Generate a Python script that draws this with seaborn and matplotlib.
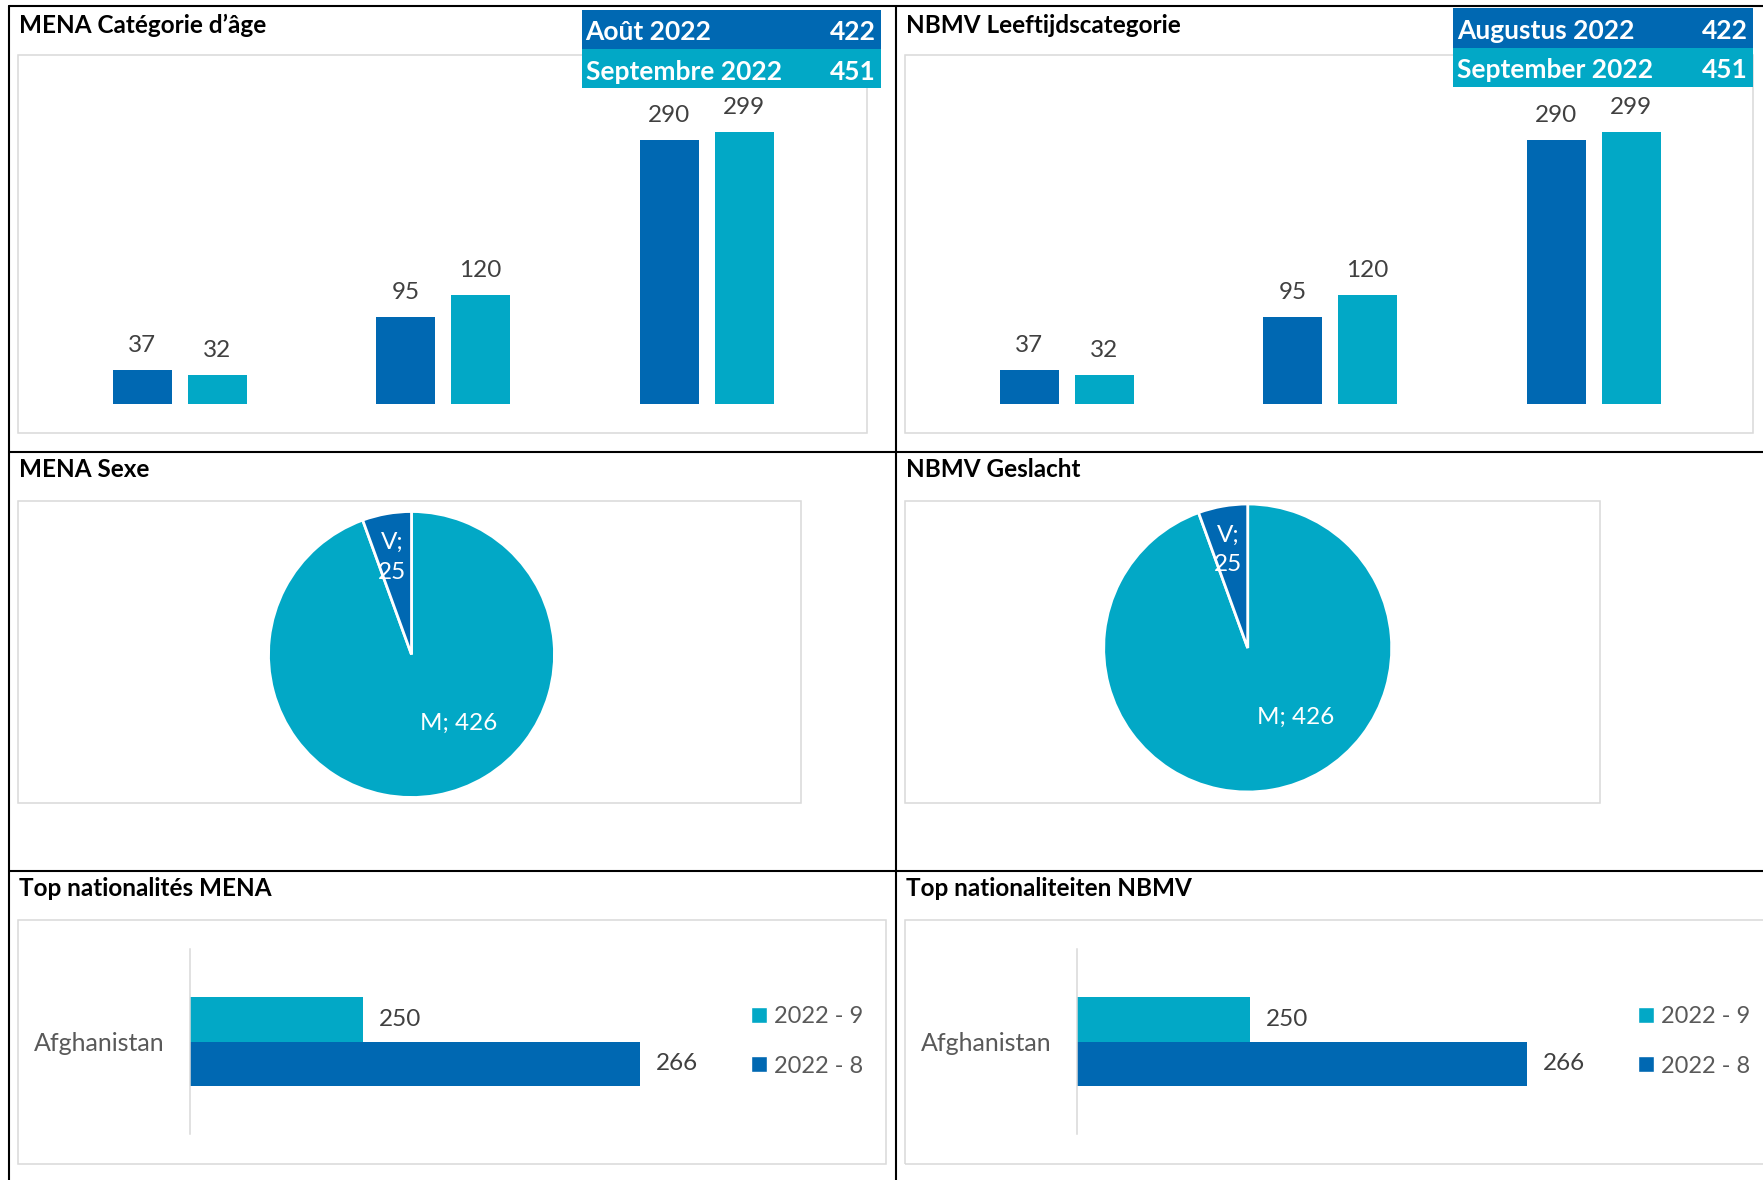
import pandas as pd
import seaborn as sns
import matplotlib.pyplot as plt
from matplotlib.lines import Line2D
from matplotlib.patches import Rectangle, Patch


# Data
age_groups = ["0-13", "14-15", "16-17"]
age_aug = [37, 95, 290]
age_sep = [32, 120, 299]

months_fr = ["Août 2022", "Septembre 2022"]
months_nl = ["Augustus 2022", "September 2022"]
month_totals = [422, 451]

sex_labels = ["M", "V"]
sex_values = [426, 25]

nationalities = ["Afghanistan"]
nat_series = ["2022 - 9", "2022 - 8"]
nat_sep = [250]
nat_aug = [266]

titles_fr = ["MENA Catégorie d’âge", "MENA Sexe", "Top nationalités MENA"]
titles_nl = ["NBMV Leeftijdscategorie", "NBMV Geslacht", "Top nationaliteiten NBMV"]

DARK = "#0068B2"
TEAL = "#02A8C6"
LABEL = "#404040"
AXIS_TXT = "#595959"
BOX = "#D9D9D9"

sns.set_theme(style="white")
plt.rcParams['font.family'] = ['Lato', 'DejaVu Sans']

W, H = 1763, 1180
fig = plt.figure(figsize=(W / 100, H / 100), dpi=100)
fig.patch.set_facecolor("white")


def px_axes(x0, y0, x1, y1):
    return fig.add_axes([x0 / W, 1 - y1 / H, (x1 - x0) / W, (y1 - y0) / H])


def px_line(x0, y0, x1, y1, **kw):
    fig.add_artist(Line2D([x0 / W, x1 / W], [1 - y0 / H, 1 - y1 / H],
                          transform=fig.transFigure, **kw))


def px_rect(x0, y0, x1, y1, **kw):
    fig.add_artist(Rectangle((x0 / W, 1 - y1 / H), (x1 - x0) / W, (y1 - y0) / H,
                             transform=fig.transFigure, **kw))


def px_text(x, y, s, **kw):
    fig.text(x / W, 1 - y / H, s, **kw)


# long tables for seaborn
df_age = pd.DataFrame({
    "group": age_groups * 2,
    "month": ["aug"] * len(age_groups) + ["sep"] * len(age_groups),
    "count": age_aug + age_sep,
})
df_nat = pd.DataFrame({
    "nationality": nationalities * 2,
    "series": [nat_series[0]] * len(nationalities) + [nat_series[1]] * len(nationalities),
    "count": nat_sep + nat_aug,
})

# black grid of the dashboard
grid_kw = dict(color="black", lw=1.5)
px_line(9, 6, W, 6, **grid_kw)
px_line(9, 6, 9, H, **grid_kw)
px_line(896, 6, 896, H, **grid_kw)
px_line(9, 452, W, 452, **grid_kw)
px_line(9, 871, W, 871, **grid_kw)

panels = [
    dict(dx=0, titles=titles_fr, months=months_fr,
         age_box=(18, 55, 867, 433), table=(581.5, 10, 881, 88),
         pie_box=(18, 501, 801, 803), pie_c=(411.5, 654.5), pie_r=143,
         nat_box=(18, 920, 886, 1164)),
    dict(dx=887, titles=titles_nl, months=months_nl,
         age_box=(905, 55, 1753, 433), table=(1453, 8, 1753, 87),
         pie_box=(905, 501, 1600, 803), pie_c=(1247.7, 648), pie_r=144,
         nat_box=(905, 920, 1775, 1164)),
]

for p in panels:
    dx = p["dx"]
    tx = 19 + dx

    # ---- age category bars ----
    px_rect(*p["age_box"], fill=False, edgecolor=BOX, lw=1.1)
    px_text(tx, 33, p["titles"][0], fontsize=17.5, fontweight="bold",
            color="black", va="baseline")
    ax = px_axes(47.85 + dx, 55.3, 838.4 + dx, 403.6)
    sns.barplot(data=df_age, x="group", y="count", hue="month",
                hue_order=["aug", "sep"], palette=[DARK, TEAL],
                width=0.57, gap=0.214, saturation=1, linewidth=0,
                legend=False, ax=ax)
    ax.set_ylim(0, 383.3)
    ax.set_xlim(-0.5, 2.5)
    for c in ax.containers:
        ax.bar_label(c, padding=10, fontsize=17.5, color=LABEL)
    ax.set_axis_off()

    # month totals box
    x0, y0, x1, y1 = p["table"]
    ym = (y0 + y1) / 2
    for (ra, rb), col, name, tot in zip([(y0, ym), (ym, y1)], [DARK, TEAL],
                                        p["months"], month_totals):
        px_rect(x0, ra, x1, rb, facecolor=col, edgecolor="none", zorder=5)
        px_text(x0 + 4, (ra + rb) / 2 + 3, name, color="white", fontsize=19,
                fontweight="bold", va="center", ha="left", zorder=6)
        px_text(x1 - 5, (ra + rb) / 2 + 3, str(tot), color="white", fontsize=19,
                fontweight="bold", va="center", ha="right", zorder=6)

    # ---- sex pie ----
    px_rect(*p["pie_box"], fill=False, edgecolor=BOX, lw=1.1)
    px_text(tx, 477, p["titles"][1], fontsize=17.5, fontweight="bold",
            color="black", va="baseline")
    cx, cy = p["pie_c"]
    r = p["pie_r"]
    ax = px_axes(cx - r, cy - r, cx + r, cy + r)
    pie_labels = [f"{lab};{' ' if v > 100 else chr(10)}{v}"
                  for lab, v in zip(sex_labels, sex_values)]
    wedges, texts = ax.pie(sex_values, labels=pie_labels, colors=[TEAL, DARK],
                           startangle=90, counterclock=False,
                           wedgeprops=dict(edgecolor="white", linewidth=2),
                           textprops=dict(color="white", fontsize=17.5,
                                          linespacing=1.5))
    texts[0].set_position((0.33, -0.48))
    texts[1].set_position((-0.135, 0.68))
    for t in texts:
        t.set_ha("center")
        t.set_va("center")
    ax.set_xlim(-1, 1)
    ax.set_ylim(-1, 1)

    # ---- nationalities ----
    px_rect(*p["nat_box"], fill=False, edgecolor=BOX, lw=1.1)
    px_text(tx, 896.5, p["titles"][2], fontsize=17.5, fontweight="bold",
            color="black", va="baseline")
    ax = px_axes(189.5 + dx, 949, 709.3 + dx, 1134)
    sns.barplot(data=df_nat, y="nationality", x="count", hue="series",
                hue_order=nat_series, palette=[TEAL, DARK], orient="h",
                width=0.483, gap=0, saturation=1, linewidth=0,
                legend=False, ax=ax)
    ax.set_xlim(240, 270)
    ax.set_ylim(0.5, -0.5)
    for c in ax.containers:
        ax.bar_label(c, padding=11.5, fontsize=17.5, color=LABEL)
    ax.set(xlabel="", ylabel="", xticks=[])
    ax.tick_params(axis="y", length=0, pad=18, labelsize=18, labelcolor=AXIS_TXT)
    for side in ["top", "right", "bottom"]:
        ax.spines[side].set_visible(False)
    ax.spines["left"].set_color(BOX)
    ax.spines["left"].set_linewidth(1.1)
    ax.set_facecolor("none")
    handles = [Patch(facecolor=TEAL, label=nat_series[0]),
               Patch(facecolor=DARK, label=nat_series[1])]
    ax.legend(handles=handles, loc="center left",
              bbox_to_anchor=((751 + dx) / W, 1 - 1041.5 / H),
              bbox_transform=fig.transFigure, frameon=False, fontsize=17,
              handlelength=0.67, handleheight=0.67, handletextpad=0.3,
              labelspacing=1.2, borderpad=0, borderaxespad=0,
              labelcolor=AXIS_TXT)

fig.savefig("out.png", dpi=100, facecolor="white")
